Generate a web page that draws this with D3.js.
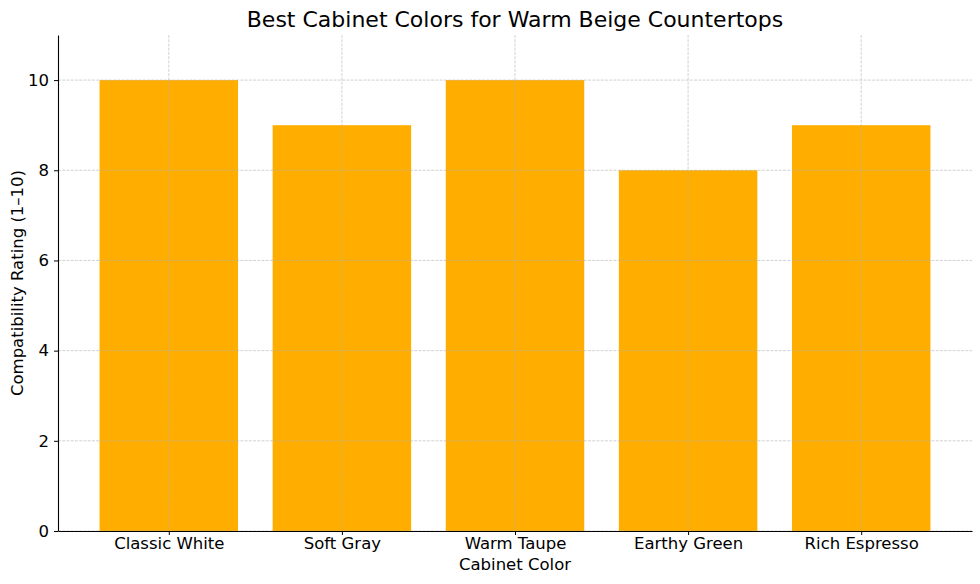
<!DOCTYPE html>
<html><head><meta charset="utf-8">
<script src="https://cdn.jsdelivr.net/npm/d3@7"></script>
<style>body{margin:0;background:#fff}svg{display:block;font-family:"DejaVu Sans",sans-serif}</style>
</head><body><svg id="c" width="980" height="584"></svg>
<script>
const categories = ["Classic White","Soft Gray","Warm Taupe","Earthy Green","Rich Espresso"];
const ratings = [10,9,10,8,9];
const yTicks = [0,2,4,6,8,10];
const title = "Best Cabinet Colors for Warm Beige Countertops";
const xLabel = "Cabinet Color";
const yLabel = "Compatibility Rating (1–10)";

const svg = d3.select("#c");
const m = {l:58, r:972, t:35, b:531};
const n = categories.length;
const x = d3.scaleLinear().domain([-0.64, n - 1 + 0.64]).range([m.l, m.r]);
const y = d3.scaleLinear().domain([0, 11]).range([m.b, m.t]);
const bw = x(0.8) - x(0);

svg.append("g").selectAll("rect").data(ratings).join("rect")
  .attr("x",(d,i)=>x(i-0.4)).attr("width",bw)
  .attr("y",d=>y(d)).attr("height",d=>y(0)-y(d))
  .attr("fill","#FFAE00");

const grid = svg.append("g").attr("stroke","#b0b0b0").attr("stroke-width",0.8).attr("stroke-dasharray","2.96,1.28").attr("opacity",0.7);
yTicks.forEach(t=>grid.append("line").attr("x1",m.l).attr("x2",m.r).attr("y1",y(t)).attr("y2",y(t)));
categories.forEach((c,i)=>grid.append("line").attr("x1",x(i)).attr("x2",x(i)).attr("y1",m.t).attr("y2",m.b));

const xa = svg.append("g").attr("transform",`translate(0,${m.b})`)
  .call(d3.axisBottom(x).tickValues(d3.range(n)).tickFormat(i=>categories[i]).tickSize(4).tickSizeOuter(0).tickPadding(2));
const ya = svg.append("g").attr("transform",`translate(${m.l},0)`)
  .call(d3.axisLeft(y).tickValues(yTicks).tickSize(4).tickSizeOuter(0).tickPadding(5));
[xa,ya].forEach(a=>{
  a.attr("font-size",null).attr("font-family",null);
  a.selectAll("text").style("font-size","16.5px").style("font-family","DejaVu Sans").attr("fill","#000");
  a.selectAll("line").attr("stroke","#000").attr("stroke-width",1);
  a.select(".domain").attr("stroke","#000").attr("stroke-width",1.1);
});

svg.append("text").attr("x",(m.l+m.r)/2).attr("y",27).attr("text-anchor","middle")
  .style("font-size","22px").attr("fill","#000").text(title);
svg.append("text").attr("x",(m.l+m.r)/2).attr("y",570).attr("text-anchor","middle")
  .style("font-size","16.5px").attr("fill","#000").text(xLabel);
svg.append("text").attr("transform",`translate(23,${(m.t+m.b)/2}) rotate(-90)`).attr("text-anchor","middle")
  .style("font-size","16.5px").attr("fill","#000").text(yLabel);
</script></body></html>
